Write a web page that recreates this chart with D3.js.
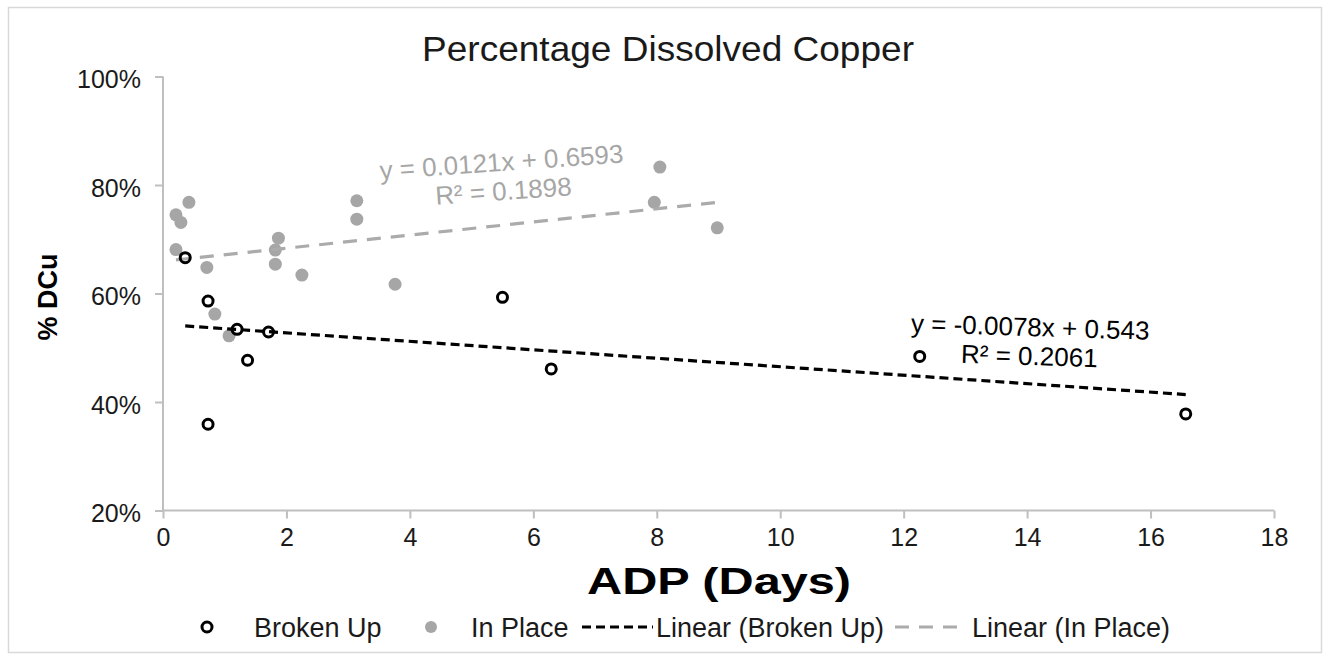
<!DOCTYPE html>
<html>
<head>
<meta charset="utf-8">
<script src="https://cdn.jsdelivr.net/npm/d3@7"></script>
<style>
  html, body { margin: 0; padding: 0; background: #fff; }
  svg { display: block; font-family: "Liberation Sans", Arial, sans-serif; }
</style>
</head>
<body>
<svg id="chart" width="1330" height="654"></svg>
<script>
// Broken Up samples: ADP (days) vs fraction of dissolved copper
const brokenUpX = [0.36, 0.73, 1.20, 1.71, 1.37, 0.73, 5.50, 6.29, 12.26, 16.57];
const brokenUpY = [0.666, 0.586, 0.534, 0.529, 0.477, 0.359, 0.593, 0.461, 0.484, 0.378];

// In Place samples
const inPlaceX = [0.21, 0.29, 0.42, 0.21, 0.71, 0.84, 1.07, 1.87, 1.82, 1.82, 2.25, 3.14, 3.14, 3.76, 8.05, 7.96, 8.98];
const inPlaceY = [0.745, 0.731, 0.768, 0.681, 0.648, 0.562, 0.522, 0.702, 0.680, 0.654, 0.634, 0.771, 0.737, 0.617, 0.833, 0.768, 0.721];

// Linear fits: [slope, intercept, R²]
const brokenUpFit = [-0.0078, 0.543, 0.2061];
const inPlaceFit = [0.0121, 0.6593, 0.1898];

const xTicks = [0, 2, 4, 6, 8, 10, 12, 14, 16, 18];
const yTicks = [0.2, 0.4, 0.6, 0.8, 1.0];

const legendLabels = ["Broken Up", "In Place", "Linear (Broken Up)", "Linear (In Place)"];

const svg = d3.select("#chart");

const axisColor = "#bfbfbf";
const grayMark = "#a6a6a6";
const textColor = "#1a1a1a";

// outer chart frame
svg.append("rect")
  .attr("x", 8.5).attr("y", 7.5)
  .attr("width", 1313).attr("height", 645)
  .attr("fill", "#fff").attr("stroke", "#d9d9d9").attr("stroke-width", 1.5);

const plot = { left: 163, right: 1274, top: 76.5, bottom: 510.5 };

const x = d3.scaleLinear().domain([0, 18]).range([plot.left, plot.right]);
const y = d3.scaleLinear().domain([0.2, 1.0]).range([plot.bottom, plot.top]);

// title
svg.append("text")
  .attr("x", 668).attr("y", 61)
  .attr("text-anchor", "middle")
  .attr("font-size", 35)
  .attr("textLength", 492).attr("lengthAdjust", "spacingAndGlyphs")
  .attr("fill", textColor)
  .text("Percentage Dissolved Copper");

// axes
const xAxis = d3.axisBottom(x).tickValues(xTicks).tickSize(8).tickPadding(10)
  .tickFormat(d3.format("d"));
const yAxis = d3.axisLeft(y).tickValues(yTicks).tickSize(8).tickPadding(14)
  .tickFormat(d3.format(".0%"));

const gx = svg.append("g").attr("transform", `translate(0,${plot.bottom})`).call(xAxis);
const gy = svg.append("g").attr("transform", `translate(${plot.left},0)`).call(yAxis);

[gx, gy].forEach(g => {
  g.select(".domain").attr("stroke", axisColor).attr("stroke-width", 2);
  g.selectAll(".tick line").attr("stroke", axisColor).attr("stroke-width", 2);
  g.selectAll(".tick text")
    .attr("font-size", 25)
    .attr("font-family", "'Liberation Sans', Arial, sans-serif")
    .attr("fill", textColor);
});
gy.selectAll(".tick text").attr("dy", "0.45em");
// d3 axisLeft draws the domain with outer ticks; flatten them away
gy.select(".domain").attr("d", `M0,${plot.bottom}V${plot.top}`);
gx.select(".domain").attr("d", `M${plot.left},0H${plot.right}`);

// axis titles
svg.append("text")
  .attr("x", 719).attr("y", 594)
  .attr("text-anchor", "middle")
  .attr("font-size", 37).attr("font-weight", "bold")
  .attr("textLength", 264).attr("lengthAdjust", "spacingAndGlyphs")
  .attr("fill", "#000")
  .text("ADP (Days)");

svg.append("text")
  .attr("transform", "translate(57,297) rotate(-90)")
  .attr("text-anchor", "middle")
  .attr("font-size", 27).attr("font-weight", "bold")
  .attr("fill", "#000")
  .text("% DCu");

// trendlines, spanning each series' x range
function trend(fit, xs, color, dash) {
  const [m, b] = fit;
  const ext = d3.extent(xs);
  svg.append("line")
    .attr("x1", x(ext[0])).attr("y1", y(m * ext[0] + b))
    .attr("x2", x(ext[1])).attr("y2", y(m * ext[1] + b))
    .attr("stroke", color).attr("stroke-width", 3.2)
    .attr("stroke-dasharray", dash);
}

// points
const inPlace = inPlaceX.map((v, i) => ({ x: v, y: inPlaceY[i] }));
const brokenUp = brokenUpX.map((v, i) => ({ x: v, y: brokenUpY[i] }));

svg.append("g").selectAll("circle").data(inPlace).join("circle")
  .attr("cx", d => x(d.x)).attr("cy", d => y(d.y)).attr("r", 6.5)
  .attr("fill", grayMark);

trend(inPlaceFit, inPlaceX, "#ababab", "14,10");

svg.append("g").selectAll("circle").data(brokenUp).join("circle")
  .attr("cx", d => x(d.x)).attr("cy", d => y(d.y)).attr("r", 5)
  .attr("fill", "none").attr("stroke", "#000").attr("stroke-width", 3);

trend(brokenUpFit, brokenUpX, "#000", "9,5");

// fit equations
function fmtEq(fit) {
  const [m, b] = fit;
  return `y = ${m}x + ${b}`;
}
function eqLabel(fit, cx, cy, angle, color) {
  const g = svg.append("g")
    .attr("transform", `translate(${cx},${cy}) rotate(${angle})`)
    .attr("fill", color).attr("font-size", 26).attr("text-anchor", "middle");
  g.append("text").attr("x", 0).attr("y", 0).text(fmtEq(fit));
  g.append("text").attr("x", 0).attr("y", 29).text(`R² = ${fit[2]}`);
}
eqLabel(inPlaceFit, 502, 171, -4, "#a6a6a6");
eqLabel(brokenUpFit, 1030, 336, 1.8, "#000");

// legend
const legY = 627;
const lg = svg.append("g").attr("font-size", 27).attr("fill", textColor);
lg.append("circle").attr("cx", 207).attr("cy", legY).attr("r", 5)
  .attr("fill", "none").attr("stroke", "#000").attr("stroke-width", 3);
lg.append("text").attr("x", 254).attr("y", legY + 10).text(legendLabels[0]);
lg.append("circle").attr("cx", 431).attr("cy", legY).attr("r", 6)
  .attr("fill", grayMark);
lg.append("text").attr("x", 471).attr("y", legY + 10).text(legendLabels[1]);
lg.append("line").attr("x1", 582).attr("x2", 653).attr("y1", legY).attr("y2", legY)
  .attr("stroke", "#000").attr("stroke-width", 3).attr("stroke-dasharray", "9,5");
lg.append("text").attr("x", 656).attr("y", legY + 10).text(legendLabels[2]);
lg.append("line").attr("x1", 895).attr("x2", 967).attr("y1", legY).attr("y2", legY)
  .attr("stroke", "#ababab").attr("stroke-width", 3).attr("stroke-dasharray", "14,10");
lg.append("text").attr("x", 972).attr("y", legY + 10).text(legendLabels[3]);
</script>
</body>
</html>
